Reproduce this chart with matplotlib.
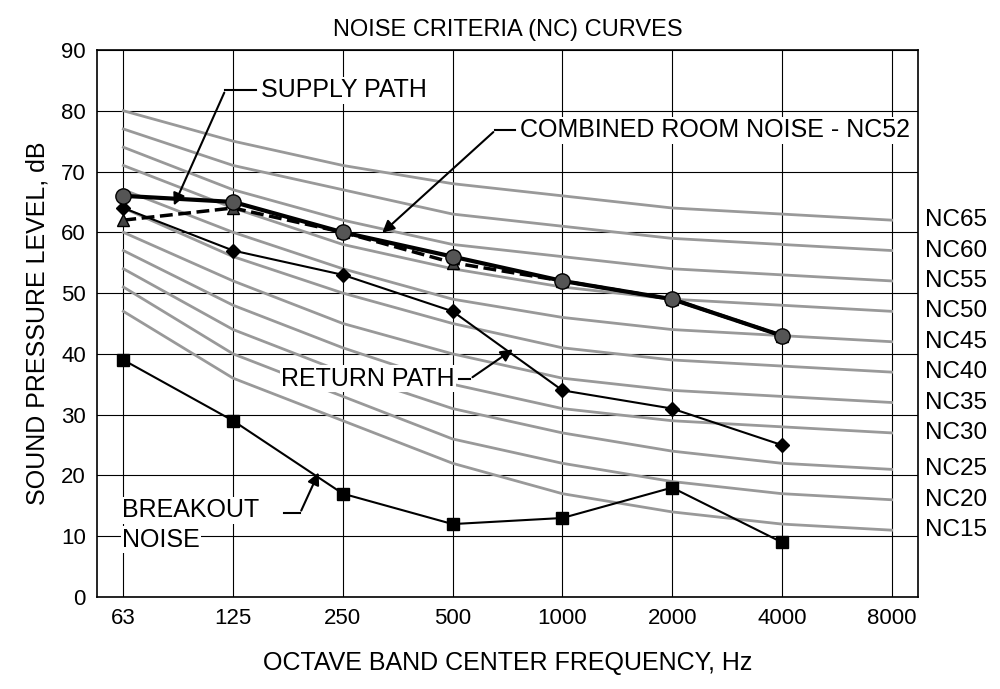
import matplotlib
matplotlib.use("Agg")
import matplotlib.pyplot as plt
import numpy as np

freqs = ["63", "125", "250", "500", "1000", "2000", "4000", "8000"]
nc_names = ["NC15", "NC20", "NC25", "NC30", "NC35", "NC40", "NC45", "NC50", "NC55", "NC60", "NC65"]
nc_values = [
    [47, 36, 29, 22, 17, 14, 12, 11],
    [51, 40, 33, 26, 22, 19, 17, 16],
    [54, 44, 37, 31, 27, 24, 22, 21],
    [57, 48, 41, 35, 31, 29, 28, 27],
    [60, 52, 45, 40, 36, 34, 33, 32],
    [64, 56, 50, 45, 41, 39, 38, 37],
    [67, 60, 54, 49, 46, 44, 43, 42],
    [71, 64, 58, 54, 51, 49, 48, 47],
    [74, 67, 62, 58, 56, 54, 53, 52],
    [77, 71, 67, 63, 61, 59, 58, 57],
    [80, 75, 71, 68, 66, 64, 63, 62],
]
combined = [66, 65, 60, 56, 52, 49, 43]
supply = [62, 64, 60, 55, 52, 49, 43]
ret = [64, 57, 53, 47, 34, 31, 25]
breakout = [39, 29, 17, 12, 13, 18, 9]

plt.rcParams['font.family'] = ['Liberation Sans', 'DejaVu Sans']
fig = plt.figure(figsize=(10, 6.89), dpi=100)
ax = fig.add_axes([0.097, 0.1335, 0.821, 0.794])
ax.set_xlim(-0.24, 7.24)
ax.set_ylim(0, 90)
xi = np.arange(len(freqs))
ax.set_xticks(xi)
ax.set_xticklabels(freqs)
ax.set_yticks(range(0, 91, 10))
ax.grid(True, color="black", linewidth=0.8)
ax.set_axisbelow(True)
ax.tick_params(labelsize=16, length=0, pad=8)
for s in ax.spines.values():
    s.set_linewidth(1.2)

for name, vals in zip(nc_names, nc_values):
    ax.plot(xi, vals, color="#999999", lw=2, zorder=2, clip_on=False)
    ax.text(7.3, vals[-1], name, fontsize=17.5, va="center", ha="left")

n = len(combined)
ax.plot(xi[:n], breakout, "k-", marker="s", ms=8, lw=1.5, zorder=4)
ax.plot(xi[:n], ret, "k-", marker="D", ms=7, lw=1.5, zorder=4)
ax.plot(xi[:n], supply, color="black", ls="--", marker="^", ms=9, lw=2.5, zorder=5, markerfacecolor="#444444")
ax.plot(xi[:n], combined, "k-", marker="o", ms=11, lw=3, zorder=6, markerfacecolor="#555555")

FS = 18
ap = dict(arrowstyle="-|>", color="black", lw=1.5, mutation_scale=18)
def callout(text, tx, ty, ex, tipx, tipy, ha):
    ax.text(tx, ty, text, fontsize=FS, ha=ha, va="center", zorder=8,
            bbox=dict(facecolor="white", edgecolor="none", pad=1))
    sx = tx - 0.04 if ha == "left" else tx + 0.04
    ax.plot([sx, ex], [ty, ty], "k-", lw=1.5, zorder=7)
    ax.annotate("", xy=(tipx, tipy), xytext=(ex, ty), arrowprops=ap, zorder=7)

callout("SUPPLY PATH", 1.25, 83.4, 0.93, 0.45, 64.0, "left")
callout("COMBINED ROOM NOISE - NC52", 3.61, 76.8, 3.39, 2.34, 59.6, "left")
callout("RETURN PATH", 3.02, 35.9, 3.16, 3.57, 41.0, "right")
ax.text(-0.01, 14.3, "BREAKOUT", fontsize=FS, ha="left", va="center", zorder=8,
        bbox=dict(facecolor="white", edgecolor="none", pad=1))
ax.text(-0.01, 9.4, "NOISE", fontsize=FS, ha="left", va="center", zorder=8,
        bbox=dict(facecolor="white", edgecolor="none", pad=1))
ax.plot([1.46, 1.61], [13.8, 13.8], "k-", lw=1.5, zorder=7)
ax.annotate("", xy=(1.79, 20.9), xytext=(1.61, 13.8), arrowprops=ap, zorder=7)

ax.set_title("NOISE CRITERIA (NC) CURVES", fontsize=17, pad=10)
ax.set_xlabel("OCTAVE BAND CENTER FREQUENCY, Hz", fontsize=18, labelpad=16)
ax.set_ylabel("SOUND PRESSURE LEVEL, dB", fontsize=18, labelpad=8)
fig.savefig("out.png", dpi=100)
